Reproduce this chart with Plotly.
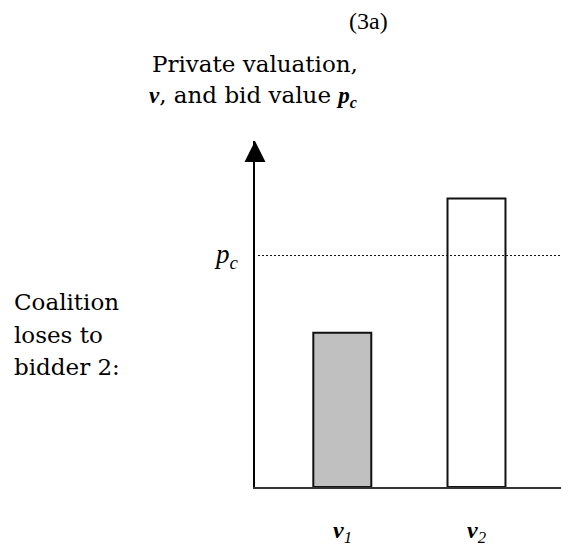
import plotly.graph_objects as go

# ---- data ----
categories = [1, 2]
cat_labels = ["<b><i>v</i></b><i><sub>1</sub></i>", "<b><i>v</i></b><i><sub>2</sub></i>"]
valuations = [4.46, 8.34]
bar_colors = ["#c0c0c0", "#ffffff"]
pc_value = 6.69
y_max = 10.0

W, H = 561, 548
L, R, T, B = 255, 0, 141, 61
PW, PH = W - L - R, H - T - B

def xp(px):
    return (px - L) / PW

def yp(py):
    return (H - B - py) / PH

BODY = "DejaVu Serif"
MATH = "Liberation Serif"

fig = go.Figure()
fig.add_trace(go.Bar(
    x=categories, y=valuations, width=0.432,
    marker=dict(color=bar_colors, line=dict(color="#111111", width=2)),
    showlegend=False, hoverinfo="skip",
))
# arrow head on top of y axis
fig.add_trace(go.Scatter(
    x=[0.3495], y=[y_max], mode="markers",
    marker=dict(symbol="arrow-up", size=21, color="black", line=dict(width=0)),
    cliponaxis=False, showlegend=False, hoverinfo="skip",
))

fig.add_shape(type="line", xref="paper", yref="y", x0=xp(258), x1=1,
              y0=pc_value, y1=pc_value, layer="above",
              line=dict(color="#111111", width=1, dash="2px,2px"))

annots = []
for c, lab in zip(categories, cat_labels):
    annots.append(dict(x=c, xref="x", y=yp(532), yref="paper", text=lab,
                       showarrow=False, xanchor="center", yanchor="middle",
                       font=dict(family=MATH, size=24, color="black")))
annots.append(dict(x=xp(241), xref="paper", y=pc_value, yref="y",
                   text="<i>p<sub>c</sub></i>", showarrow=False,
                   xanchor="right", yanchor="middle",
                   font=dict(family=MATH, size=27, color="black")))
annots.append(dict(x=xp(368), xref="paper", y=yp(21), yref="paper", text="(3a)",
                   showarrow=False, xanchor="center", yanchor="middle",
                   font=dict(family=MATH, size=24, color="black")))
annots.append(dict(x=xp(255), xref="paper", y=yp(64), yref="paper",
                   text="Private valuation,", showarrow=False,
                   xanchor="center", yanchor="middle",
                   font=dict(family=BODY, size=23, color="black")))
annots.append(dict(x=xp(253), xref="paper", y=yp(96), yref="paper",
                   text=f"<span style='font-family:{MATH}'><b><i>v</i></b></span>, and bid value "
                        f"<span style='font-family:{MATH}'><b><i>p<sub>c</sub></i></b></span>",
                   showarrow=False, xanchor="center", yanchor="middle",
                   font=dict(family=BODY, size=23, color="black")))
for txt, py in [("Coalition", 302), ("loses to", 335), ("bidder 2:", 367)]:
    annots.append(dict(x=xp(12), xref="paper", y=yp(py), yref="paper", text=txt,
                       showarrow=False, xanchor="left", yanchor="middle",
                       font=dict(family=BODY, size=23, color="black")))

fig.update_layout(
    width=W, height=H,
    margin=dict(l=L, r=R, t=T, b=B, pad=0),
    paper_bgcolor="white", plot_bgcolor="white",
    annotations=annots,
    xaxis=dict(range=[0.3495, 2.6297], showgrid=False, zeroline=False,
               showticklabels=False, ticks="", showline=True,
               linecolor="#333333", linewidth=2),
    yaxis=dict(range=[0, y_max], showgrid=False, zeroline=False,
               showticklabels=False, ticks="", showline=True,
               linecolor="black", linewidth=2),
)
fig.write_html("out.html", config={"displayModeBar": False},
               post_script="document.body.style.margin='0';document.body.style.padding='0';")
